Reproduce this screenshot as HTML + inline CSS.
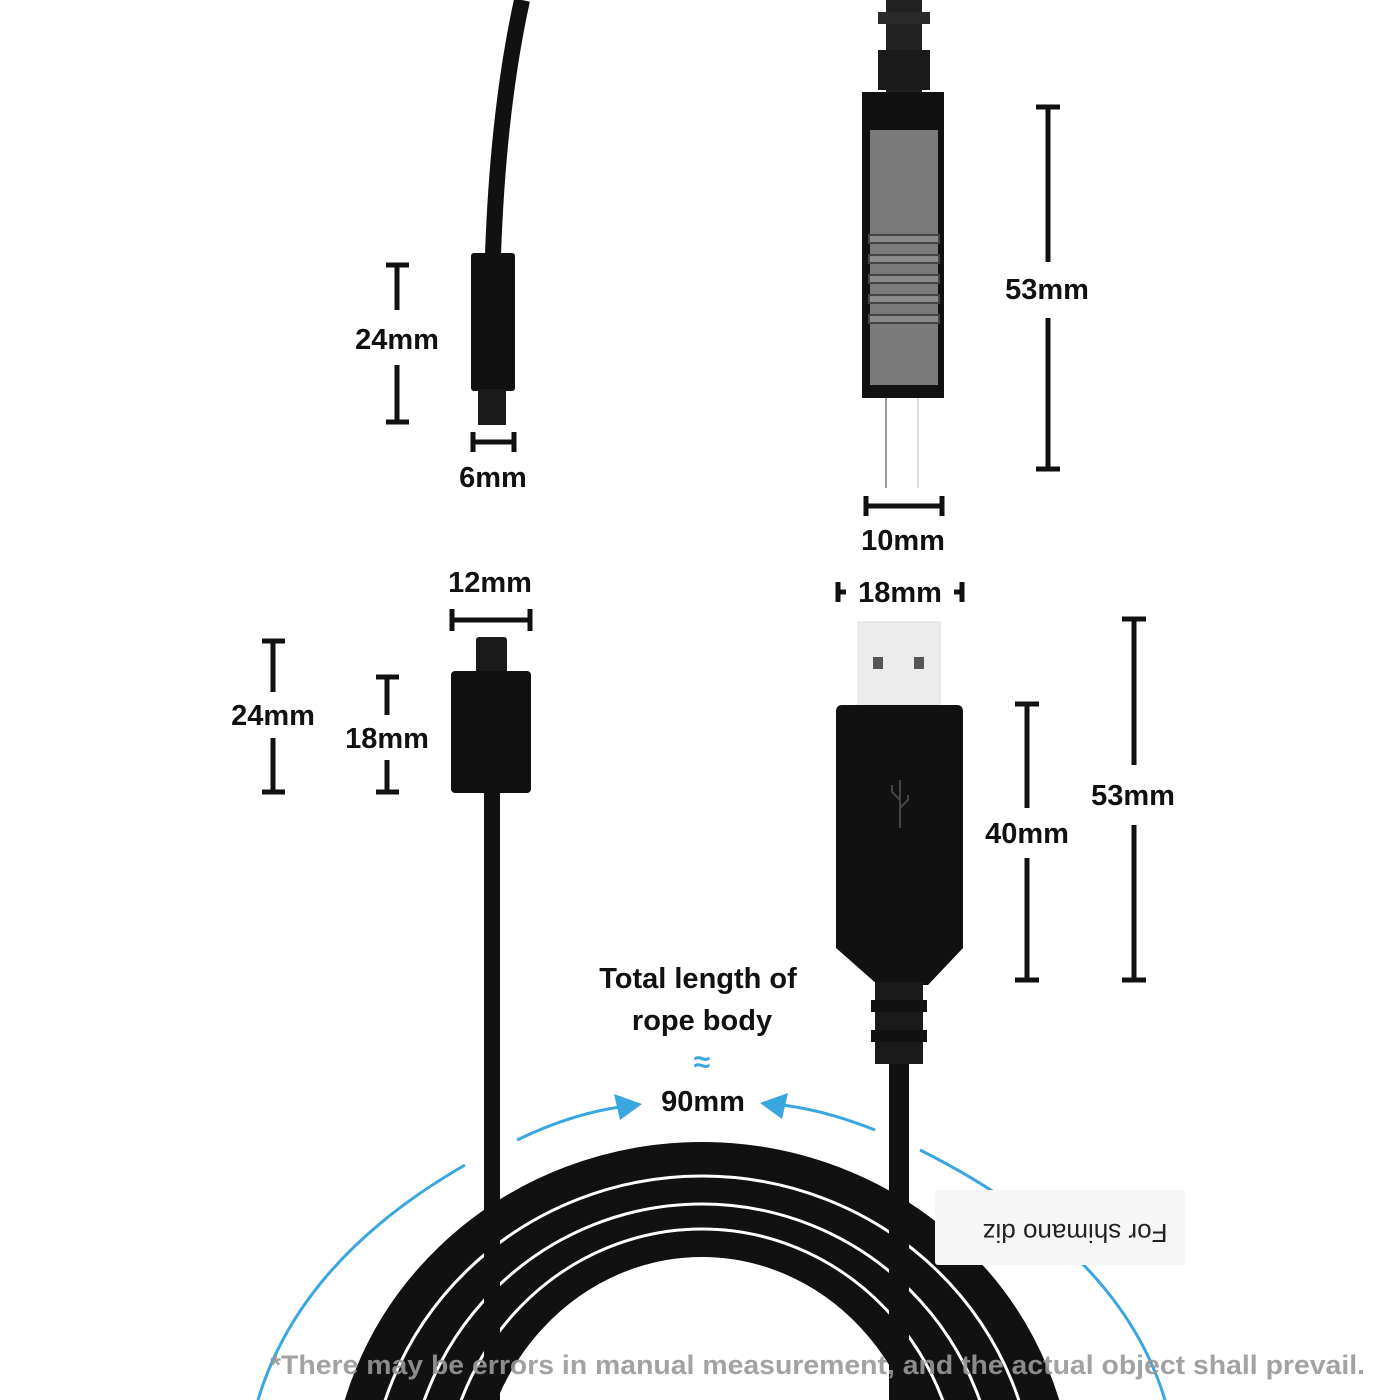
<!DOCTYPE html>
<html><head><meta charset="utf-8"><style>
html,body{margin:0;padding:0;background:#fff;overflow:hidden;width:1400px;height:1400px}
svg{display:block}
text{font-family:"Liberation Sans","DejaVu Sans",sans-serif;font-weight:bold;fill:#111}
</style></head><body>
<svg width="1400" height="1400" viewBox="0 0 1400 1400" xmlns="http://www.w3.org/2000/svg" overflow="hidden">
<rect width="1400" height="1400" fill="#fff"/>
<path d="M522 0 Q498 110 493 255" stroke="#111" stroke-width="16" fill="none"/>
<rect x="471" y="253" width="44" height="138" rx="3" fill="#111"/>
<rect x="478" y="389" width="28" height="36" fill="#1a1a1a"/>
<g stroke="#111" stroke-width="5">
<line x1="397" y1="265" x2="397" y2="310"/><line x1="397" y1="365" x2="397" y2="422"/>
<line x1="386" y1="265" x2="409" y2="265"/><line x1="386" y1="422" x2="409" y2="422"/>
<line x1="473" y1="442" x2="514" y2="442"/><line x1="473" y1="432" x2="473" y2="452"/><line x1="514" y1="432" x2="514" y2="452"/>
</g>
<text x="397" y="349" font-size="29" text-anchor="middle">24mm</text>
<text x="493" y="487" font-size="29" text-anchor="middle">6mm</text>
<rect x="886" y="0" width="36" height="95" fill="#222"/>
<rect x="878" y="12" width="52" height="12" fill="#2a2a2a"/>
<rect x="878" y="50" width="52" height="40" fill="#1a1a1a"/>
<rect x="862" y="92" width="82" height="306" fill="#111"/>
<rect x="870" y="130" width="68" height="255" fill="#7a7a7a"/>
<g fill="#8a8a8a" stroke="#444" stroke-width="2">
<rect x="869" y="235" width="70" height="8"/><rect x="869" y="255" width="70" height="8"/><rect x="869" y="275" width="70" height="8"/><rect x="869" y="295" width="70" height="8"/><rect x="869" y="315" width="70" height="8"/></g>
<line x1="886" y1="398" x2="886" y2="488" stroke="#999" stroke-width="2"/>
<line x1="918" y1="398" x2="918" y2="488" stroke="#ddd" stroke-width="2"/>
<g stroke="#111" stroke-width="5">
<line x1="1048" y1="107" x2="1048" y2="262"/><line x1="1048" y1="318" x2="1048" y2="469"/>
<line x1="1036" y1="107" x2="1060" y2="107"/><line x1="1036" y1="469" x2="1060" y2="469"/>
<line x1="866" y1="506" x2="942" y2="506"/><line x1="866" y1="496" x2="866" y2="516"/><line x1="942" y1="496" x2="942" y2="516"/>
</g>
<text x="1047" y="299" font-size="29" text-anchor="middle">53mm</text>
<text x="903" y="550" font-size="29" text-anchor="middle">10mm</text>
<rect x="484" y="790" width="16" height="420" fill="#111"/>
<rect x="476" y="637" width="31" height="38" rx="3" fill="#1a1a1a"/>
<rect x="451" y="671" width="80" height="122" rx="4" fill="#111"/>
<g stroke="#111" stroke-width="5">
<line x1="452" y1="620" x2="530" y2="620"/><line x1="452" y1="609" x2="452" y2="631"/><line x1="530" y1="609" x2="530" y2="631"/>
<line x1="273" y1="641" x2="273" y2="692"/><line x1="273" y1="738" x2="273" y2="792"/><line x1="262" y1="641" x2="285" y2="641"/><line x1="262" y1="792" x2="285" y2="792"/>
<line x1="387" y1="677" x2="387" y2="715"/><line x1="387" y1="760" x2="387" y2="792"/><line x1="376" y1="677" x2="399" y2="677"/><line x1="376" y1="792" x2="399" y2="792"/>
</g>
<text x="490" y="592" font-size="29" text-anchor="middle">12mm</text>
<text x="273" y="725" font-size="29" text-anchor="middle">24mm</text>
<text x="387" y="748" font-size="29" text-anchor="middle">18mm</text>
<rect x="889" y="1060" width="20" height="340" fill="#111"/>
<rect x="858" y="622" width="82" height="86" fill="#ececec" stroke="#ddd"/>
<rect x="873" y="657" width="10" height="12" fill="#555"/><rect x="914" y="657" width="10" height="12" fill="#555"/>
<path d="M842 705 H957 Q963 705 963 712 V948 L928 985 H878 L836 948 V712 Q836 705 842 705 Z" fill="#111"/>
<rect x="875" y="982" width="48" height="82" fill="#1a1a1a"/>
<rect x="871" y="1000" width="56" height="12" fill="#111"/><rect x="871" y="1030" width="56" height="12" fill="#111"/>
<g stroke="#444" stroke-width="2" fill="none"><line x1="900" y1="780" x2="900" y2="828"/><path d="M900 800 L892 792 V785"/><path d="M900 808 L908 800 V795"/></g>
<g stroke="#111" stroke-width="5">
<line x1="836" y1="592" x2="846" y2="592"/><line x1="838" y1="582" x2="838" y2="602"/>
<line x1="954" y1="592" x2="964" y2="592"/><line x1="962" y1="582" x2="962" y2="602"/>
<line x1="1027" y1="704" x2="1027" y2="808"/><line x1="1027" y1="858" x2="1027" y2="980"/><line x1="1015" y1="704" x2="1039" y2="704"/><line x1="1015" y1="980" x2="1039" y2="980"/>
<line x1="1134" y1="619" x2="1134" y2="765"/><line x1="1134" y1="825" x2="1134" y2="980"/><line x1="1122" y1="619" x2="1146" y2="619"/><line x1="1122" y1="980" x2="1146" y2="980"/>
</g>
<text x="900" y="602" font-size="29" text-anchor="middle">18mm</text>
<text x="1027" y="843" font-size="29" text-anchor="middle">40mm</text>
<text x="1133" y="805" font-size="29" text-anchor="middle">53mm</text>
<text x="698" y="988" font-size="29" text-anchor="middle">Total length of</text>
<text x="702" y="1030" font-size="29" text-anchor="middle">rope body</text>
<text x="702" y="1072" font-size="30" text-anchor="middle" style="fill:#3aa6e0">≈</text>
<text x="703" y="1111" font-size="29" text-anchor="middle">90mm</text>
<g stroke="#3aa6e0" stroke-width="3" fill="none">
<path d="M517 1140 Q575 1112 628 1106"/><path d="M465 1165 Q300 1260 258 1400"/>
<path d="M875 1130 Q820 1108 772 1104"/><path d="M920 1150 Q1120 1250 1165 1400"/>
</g>
<path d="M642 1104 L614 1094 L620 1120 Z" fill="#3aa6e0"/>
<path d="M760 1103 L788 1093 L782 1119 Z" fill="#3aa6e0"/>
<g fill="none" stroke="#111">
<ellipse cx="702" cy="1500" rx="352" ry="338" stroke-width="40"/>
<ellipse cx="702" cy="1500" rx="314" ry="310" stroke-width="40"/>
<ellipse cx="702" cy="1500" rx="276" ry="282" stroke-width="40"/>
<ellipse cx="702" cy="1500" rx="242" ry="260" stroke-width="34"/>
</g>
<g fill="none" stroke="#fff" stroke-width="3">
<ellipse cx="702" cy="1500" rx="333" ry="324"/>
<ellipse cx="702" cy="1500" rx="295" ry="296"/>
<ellipse cx="702" cy="1500" rx="259" ry="271"/>
</g>
<rect x="484" y="1200" width="16" height="200" fill="#111"/>
<rect x="889" y="1200" width="20" height="200" fill="#111"/>
<rect x="935" y="1190" width="250" height="75" fill="#f6f6f6" rx="3"/>
<text x="1075" y="1206" font-size="26" text-anchor="middle" transform="rotate(180 1075 1215)" style="font-weight:normal;fill:#222">For shimano diz</text>
<text x="270" y="1374" font-size="27" textLength="1095" lengthAdjust="spacingAndGlyphs" style="fill:#999;opacity:0.9">*There may be errors in manual measurement, and the actual object shall prevail.</text>
</svg>
</body></html>
